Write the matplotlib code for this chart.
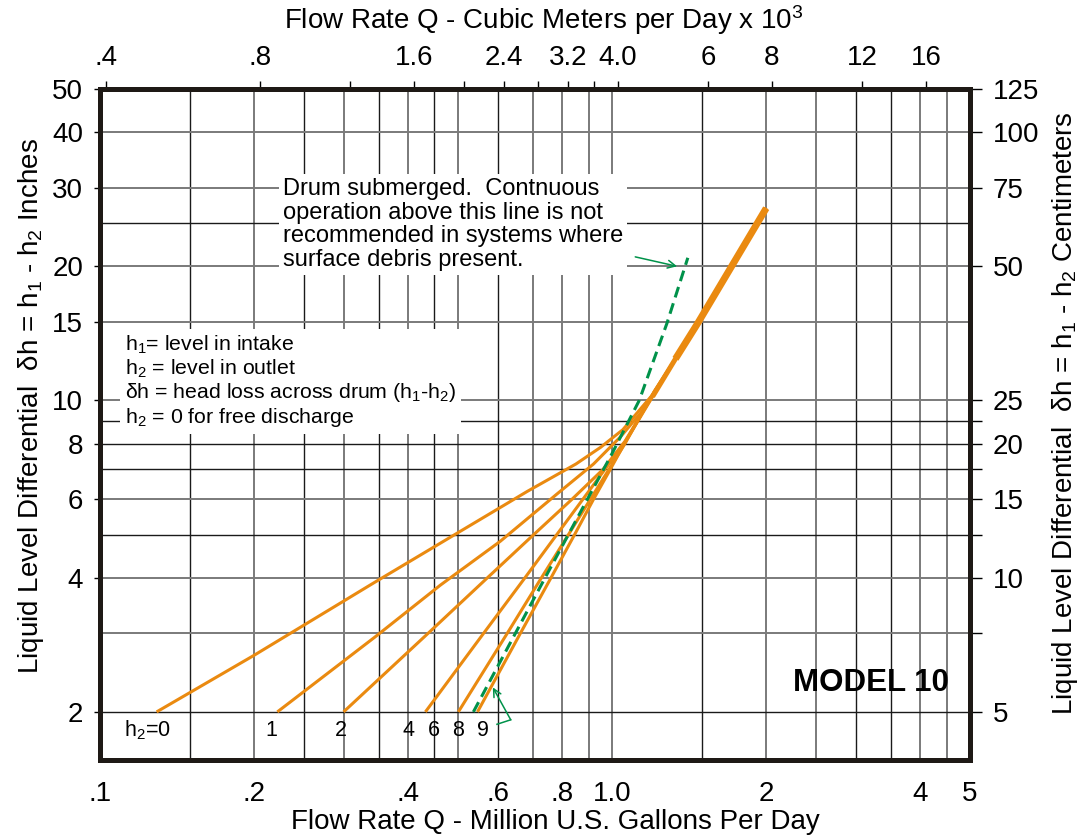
import matplotlib
matplotlib.use('Agg')
import matplotlib.pyplot as plt
from matplotlib.ticker import NullLocator, NullFormatter

plt.rcParams['font.family'] = ['Liberation Sans', 'DejaVu Sans']
plt.rcParams['mathtext.fontset'] = 'custom'
plt.rcParams['mathtext.rm'] = 'Liberation Sans'
plt.rcParams['mathtext.it'] = 'Liberation Sans:italic'
plt.rcParams['mathtext.bf'] = 'Liberation Sans:bold'
plt.rcParams['mathtext.default'] = 'regular'

# head loss curves, flow in MGD vs delta h in inches, one pair per outlet level h2
h2_0_q = [0.129, 0.2, 0.343, 0.473, 0.683, 0.85, 0.95, 1.05, 1.13, 1.2, 1.33, 1.47, 2.0]
h2_0_h = [2.0, 2.68, 3.9, 4.86, 6.25, 7.2, 7.85, 8.6, 9.5, 10.3, 12.4, 14.9, 27.0]
h2_1_q = [0.222, 0.345, 0.462, 0.605, 0.785, 0.92, 1.04, 1.14, 1.22, 1.33, 1.47, 2.0]
h2_1_h = [2.0, 2.95, 3.85, 4.83, 6.2, 7.2, 8.3, 9.4, 10.6, 12.4, 14.9, 27.0]
h2_2_q = [0.299, 0.437, 0.571, 0.69, 0.835, 0.96, 1.06, 1.14, 1.22, 1.33, 1.47, 2.0]
h2_2_h = [2.0, 3.0, 4.0, 4.9, 6.0, 7.0, 8.1, 9.3, 10.6, 12.4, 14.9, 27.0]
h2_4_q = [0.432, 0.561, 0.676, 0.78, 0.877, 0.968, 1.056, 1.135, 1.21, 1.33, 1.47, 2.0]
h2_4_h = [2.0, 3.0, 4.0, 5.0, 6.0, 7.0, 8.0, 9.2, 10.5, 12.4, 14.9, 27.0]
h2_6_q = [0.501, 0.624, 0.728, 0.822, 0.907, 0.986, 1.06, 1.14, 1.21, 1.33, 1.47, 2.0]
h2_6_h = [2.0, 3.0, 4.0, 5.0, 6.0, 7.0, 8.0, 9.3, 10.4, 12.4, 14.9, 27.0]
h2_8_q = [0.546, 0.662, 0.76, 0.845, 0.92, 0.992, 1.057, 1.2, 1.33, 1.47, 2.0]
h2_8_h = [2.0, 3.0, 4.0, 5.0, 6.0, 7.0, 8.0, 10.2, 12.4, 14.9, 27.0]

# drum submerged limit (green dashed)
submerged_q = [0.536, 0.74, 1.0, 1.13, 1.28, 1.406]
submerged_h = [2.0, 4.0, 7.6, 10.0, 14.9, 20.9]

curve_labels = ['h$_2$=0', '1', '2', '4', '6', '8', '9']
curve_label_q = [0.124, 0.216, 0.296, 0.40, 0.448, 0.50, 0.56]

# axis ticks
q_ticks = [0.1, 0.2, 0.4, 0.6, 0.8, 1.0, 2, 4, 5]
q_labels = ['.1', '.2', '.4', '.6', '.8', '1.0', '2', '4', '5']
h_ticks = [2, 4, 6, 8, 10, 15, 20, 30, 40, 50]
h_labels = ['2', '4', '6', '8', '10', '15', '20', '30', '40', '50']
m3_ticks = [0.4, 0.8, 1.6, 2.4, 3.2, 4.0, 6, 8, 12, 16]
m3_labels = ['.4', '.8', '1.6', '2.4', '3.2', '4.0', '6', '8', '12', '16']
m3_minor = [1.2, 2.0, 2.8, 3.6]
cm_ticks = [5, 10, 15, 20, 25, 50, 75, 100, 125]
cm_labels = ['5', '10', '15', '20', '25', '50', '75', '100', '125']
cm_minor = [7.5, 12.5, 17.5, 22.5]

# grid lines drawn on the chart
grid_q_gray = [0.2, 0.3, 0.4, 0.5, 0.7, 0.8, 0.9, 1.0, 2.0, 2.5, 4.0, 4.5]
grid_q_black = [0.15, 0.25, 0.35, 0.45, 0.6, 1.5, 3.0, 3.5]
grid_h_gray = [3, 4, 6, 10, 15, 20, 30, 40]
grid_h_black = [2, 5, 7, 8, 9, 25]

# scale factors as drawn on the chart
M3_PER_MGD = 3.9
CM_PER_IN = 2.5

ORANGE = '#EA8A10'
GREEN = '#00924A'
FRAME = '#1E1915'
FS = 20


def main():
    fig = plt.figure(figsize=(10.8, 8.38), dpi=100)
    ax = fig.add_axes([0.0926, 0.0931, 0.8055, 0.8007])
    ax.set_xscale('log')
    ax.set_yscale('log')
    ax.set_xlim(0.1, 5)
    ax.set_ylim(1.56, 50)

    for q in grid_q_gray:
        ax.axvline(q, color='#7a7a7a', lw=1.4, zorder=1)
    for q in grid_q_black:
        ax.axvline(q, color='#1a1a1a', lw=1.0, zorder=1)
    for h in grid_h_gray:
        ax.axhline(h, color='#7a7a7a', lw=1.4, zorder=1)
    for h in grid_h_black:
        ax.axhline(h, color='#1a1a1a', lw=1.0, zorder=1)

    curves = [(h2_0_q, h2_0_h), (h2_1_q, h2_1_h), (h2_2_q, h2_2_h),
              (h2_4_q, h2_4_h), (h2_6_q, h2_6_h), (h2_8_q, h2_8_h)]
    for q, h in curves:
        ax.plot(q, h, color=ORANGE, lw=2.2, zorder=3, solid_capstyle='butt',
                solid_joinstyle='round')
    # the curves merge into one heavy line at the top
    ax.plot(h2_8_q[-4:], h2_8_h[-4:], color=ORANGE, lw=3.6, zorder=3, solid_capstyle='butt')
    ax.plot(h2_8_q[-3:], h2_8_h[-3:], color=ORANGE, lw=5.0, zorder=3, solid_capstyle='butt')

    ax.plot(submerged_q, submerged_h, color=GREEN, lw=2.2, dashes=(3.6, 2.0), zorder=4)

    # arrows
    ax.annotate('', xy=(1.34, 20.0), xytext=(1.11, 21.0),
                arrowprops=dict(arrowstyle='->', color=GREEN, lw=1.1,
                                shrinkA=0, shrinkB=0, mutation_scale=14), zorder=5)
    ax.plot([0.596, 0.634], [1.876, 1.92], color=GREEN, lw=1.1, zorder=5)
    ax.annotate('', xy=(0.585, 2.27), xytext=(0.634, 1.92),
                arrowprops=dict(arrowstyle='->', color=GREEN, lw=1.1,
                                shrinkA=0, shrinkB=0, mutation_scale=14), zorder=5)

    for lab, q in zip(curve_labels, curve_label_q):
        ax.text(q, 1.82, lab, fontsize=15.5, ha='center', va='center', zorder=5)

    ax.text(0.2103, 0.8674,
            'Drum submerged.  Contnuous\noperation above this line is not\n'
            'recommended in systems where\nsurface debris present.',
            transform=ax.transAxes, fontsize=17, ha='left', va='top', linespacing=1.1,
            bbox=dict(boxstyle='square,pad=0.15', facecolor='white', edgecolor='none'),
            zorder=4)

    ax.text(0.0287, 0.636,
            'h$_1$= level in intake\nh$_2$ = level in outlet\n'
            'δh = head loss across drum (h$_1$-h$_2$)\nh$_2$ = 0 for free discharge',
            transform=ax.transAxes, fontsize=15.3, ha='left', va='top', linespacing=1.1,
            bbox=dict(boxstyle='square,pad=0.25', facecolor='white', edgecolor='none'),
            zorder=4)

    ax.text(0.886, 0.1147, 'MODEL 10', transform=ax.transAxes, fontsize=22.5,
            fontweight='bold', ha='center', va='center', zorder=5)

    # bottom / left axes
    ax.set_xticks(q_ticks, labels=q_labels)
    ax.set_yticks(h_ticks, labels=h_labels)
    ax.xaxis.set_minor_locator(NullLocator())
    ax.yaxis.set_minor_locator(NullLocator())
    ax.tick_params(axis='x', length=0, pad=15, labelsize=FS)
    ax.tick_params(axis='y', length=4, width=1, direction='out', pad=8, labelsize=FS)

    for sp in ax.spines.values():
        sp.set_linewidth(3.6)
        sp.set_color(FRAME)
        sp.set_zorder(6)

    ax.set_xlabel('Flow Rate Q - Million U.S. Gallons Per Day', fontsize=FS, va='center')
    ax.xaxis.set_label_coords(0.524, -0.0924, transform=ax.transAxes)
    ax.set_ylabel('Liquid Level Differential  δh = h$_1$ - h$_2$ Inches', fontsize=FS, va='center')
    ax.yaxis.set_label_coords(-0.079, 0.528, transform=ax.transAxes)

    # top axis, cubic meters per day x 10^3
    top = ax.secondary_xaxis('top', functions=(lambda q: q * M3_PER_MGD, lambda v: v / M3_PER_MGD))
    top.set_xticks(m3_ticks, labels=m3_labels)
    top.set_xticks(m3_minor, minor=True)
    top.xaxis.set_minor_formatter(NullFormatter())
    top.tick_params(which='both', length=6, width=1, direction='out', pad=7, labelsize=FS)
    top.spines['top'].set_linewidth(3.6)
    top.spines['top'].set_color(FRAME)
    top.set_xlabel('Flow Rate Q - Cubic Meters per Day x 10$^3$', fontsize=FS, va='center')
    top.xaxis.set_label_coords(0.51, 1.1028, transform=ax.transAxes)

    # right axis, centimeters
    right = ax.secondary_yaxis('right', functions=(lambda h: h * CM_PER_IN, lambda c: c / CM_PER_IN))
    right.set_yticks(cm_ticks, labels=cm_labels)
    right.set_yticks(cm_minor, minor=True)
    right.yaxis.set_minor_formatter(NullFormatter())
    right.tick_params(which='both', length=8.5, width=1, direction='out', pad=8, labelsize=FS)
    right.spines['right'].set_linewidth(3.6)
    right.spines['right'].set_color(FRAME)
    right.set_ylabel('Liquid Level Differential  δh = h$_1$ - h$_2$ Centimeters', fontsize=FS,
                     va='center')
    right.yaxis.set_label_coords(1.109, 0.517, transform=ax.transAxes)

    fig.savefig('out.png', dpi=100)
    plt.close('all')


if __name__ == "__main__":
    main()
